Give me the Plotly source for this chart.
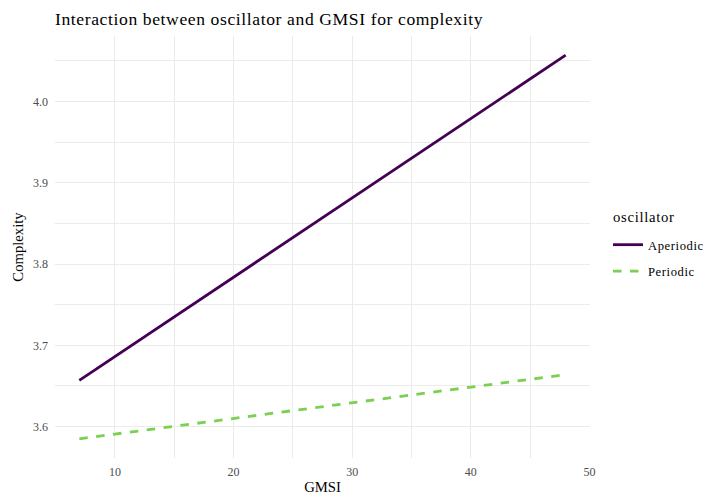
import plotly.graph_objects as go

# Model predictions of complexity across the GMSI range, per oscillator type
gmsi = [7, 48]
aperiodic = [3.657, 4.057]
periodic = [3.585, 3.664]
series_names = ["Aperiodic", "Periodic"]
series_colors = ["#440154", "#7AD151"]
x_ticks = [10, 20, 30, 40, 50]
y_ticks = [3.6, 3.7, 3.8, 3.9, 4.0]

FONT = "Liberation Serif, Times New Roman, serif"
GRID = "#EBEBEB"
W, H = 723, 497
L, R, T, B = 55, 133, 36, 39


def spaced(text, px):
    return f'<span style="letter-spacing:{px}px">{text}</span>'


fig = go.Figure()
fig.add_trace(go.Scatter(
    x=gmsi, y=aperiodic, mode="lines", name=spaced(series_names[0], 0.6),
    legendgroup="a",
    line=dict(color=series_colors[0], width=2.8),
))
fig.add_trace(go.Scatter(
    x=gmsi, y=periodic, mode="lines", name=spaced(series_names[1], 0.6),
    legendgroup="p",
    line=dict(color=series_colors[1], width=2.8, dash="8.5px,8.5px"),
))

pw = W - L - R
ph = H - T - B

fig.update_layout(
    width=W, height=H,
    margin=dict(l=L, r=R, t=T, b=B, autoexpand=False),
    paper_bgcolor="white", plot_bgcolor="white",
    font=dict(family=FONT, color="black"),
    title=dict(
        text=spaced("Interaction between oscillator and GMSI for complexity", 0.6),
        x=L / W, xanchor="left", y=1 - 19 / H, yanchor="middle",
        font=dict(size=17.6, color="black"),
    ),
    legend=dict(
        font=dict(size=12.6, color="black"),
        x=(608 - L) / pw, xanchor="left",
        y=(H - B - 230) / ph, yanchor="top",
        bgcolor="rgba(0,0,0,0)", tracegroupgap=7, itemwidth=30,
    ),
    showlegend=True,
)

# legend heading
fig.add_annotation(
    text=spaced("oscillator", 0.7), showarrow=False,
    xref="paper", yref="paper",
    x=(611 - L) / pw, xanchor="left",
    y=(H - B - 217) / ph, yanchor="middle",
    font=dict(size=14.7, color="black", family=FONT),
)

fig.update_xaxes(
    range=[4.95, 50.05], tickvals=x_ticks, ticktext=[str(v) for v in x_ticks],
    showgrid=True, gridcolor=GRID, gridwidth=1.1, zeroline=False,
    showline=False, ticks="", ticklen=0, ticklabelstandoff=5, automargin=False,
    tickfont=dict(size=12, color="#4D4D4D"),
    minor=dict(dtick=5, tick0=5, showgrid=True, gridcolor=GRID, gridwidth=0.55),
    title=dict(text="GMSI", font=dict(size=14.7, color="black"), standoff=3),
)
fig.update_yaxes(
    range=[3.5614, 4.0806], tickvals=y_ticks, ticktext=[f"{v:.1f}" for v in y_ticks],
    showgrid=True, gridcolor=GRID, gridwidth=1.1, zeroline=False,
    showline=False, ticks="", ticklen=0, ticklabelstandoff=6, automargin=False,
    tickfont=dict(size=12, color="#4D4D4D"),
    minor=dict(dtick=0.05, tick0=3.55, showgrid=True, gridcolor=GRID, gridwidth=0.55),
    title=dict(text="Complexity", font=dict(size=14.7, color="black"), standoff=5),
)

fig.write_html("out.html")
